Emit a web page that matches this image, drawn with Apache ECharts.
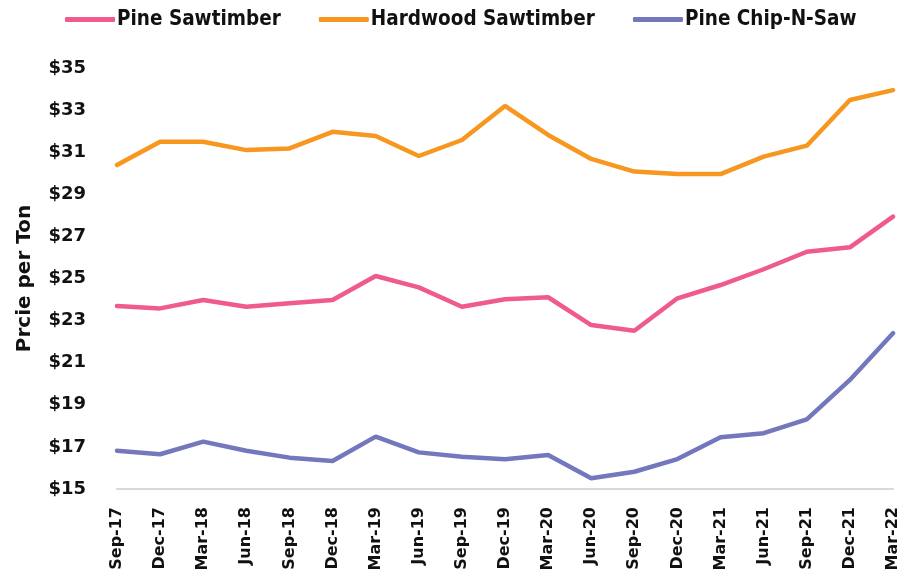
<!DOCTYPE html>
<html>
<head>
<meta charset="utf-8">
<script src="https://cdn.jsdelivr.net/npm/echarts@6/dist/echarts.min.js"></script>
<style>
  html, body { margin: 0; padding: 0; background: #fff; }
  #main { width: 917px; height: 579px; }
</style>
</head>
<body>
<div id="main"></div>
<script>
// quarterly stumpage prices, $ per ton
var quarters = ['Sep-17', 'Dec-17', 'Mar-18', 'Jun-18', 'Sep-18', 'Dec-18', 'Mar-19', 'Jun-19', 'Sep-19', 'Dec-19',
                'Mar-20', 'Jun-20', 'Sep-20', 'Dec-20', 'Mar-21', 'Jun-21', 'Sep-21', 'Dec-21', 'Mar-22'];
var pineSawtimber = [23.69, 23.58, 23.98, 23.66, 23.82, 23.98, 25.12, 24.58, 23.66, 24.01,
                     24.11, 22.79, 22.52, 24.06, 24.69, 25.44, 26.27, 26.48, 27.94];
var hardwoodSawtimber = [30.39, 31.50, 31.50, 31.10, 31.18, 31.97, 31.77, 30.82, 31.58, 33.20,
                         31.82, 30.68, 30.08, 29.96, 29.96, 30.79, 31.31, 33.48, 33.95];
var pineChipNSaw = [16.82, 16.65, 17.25, 16.82, 16.49, 16.33, 17.49, 16.74, 16.53, 16.41,
                    16.62, 15.51, 15.82, 16.42, 17.46, 17.65, 18.31, 20.18, 22.40];

var chart = echarts.init(document.getElementById('main'));
var wide = '"DejaVu Sans", sans-serif';
var narrow = '"DejaVu Sans Condensed", "DejaVu Sans", sans-serif';

function line(name, data, color) {
    return {
        name: name,
        type: 'line',
        data: data,
        symbol: 'none',
        lineStyle: { color: color, width: 4.5, cap: 'round' },
        itemStyle: { color: color }
    };
}

chart.setOption({
    backgroundColor: '#ffffff',
    animation: false,
    legend: {
        top: 4,
        left: 60,
        itemWidth: 50,
        itemHeight: 5,
        itemGap: 38,
        icon: 'roundRect',
        textStyle: { fontFamily: narrow, fontWeight: 'bold', fontSize: 20.5, color: '#111', padding: [0, 0, 0, -3] },
        data: ['Pine Sawtimber', 'Hardwood Sawtimber', 'Pine Chip-N-Saw']
    },
    grid: { left: 117, right: 24, top: 68, bottom: 90 },
    xAxis: {
        type: 'category',
        data: quarters,
        boundaryGap: false,
        axisLine: { lineStyle: { color: '#d9d9d9', width: 2 } },
        axisTick: { show: false },
        axisLabel: {
            rotate: 90,
            interval: 0,
            margin: 18,
            fontFamily: wide,
            fontWeight: 'bold',
            fontSize: 16,
            color: '#111'
        }
    },
    yAxis: {
        type: 'value',
        min: 15,
        max: 35,
        interval: 2,
        name: 'Prcie per Ton',
        nameLocation: 'middle',
        nameGap: 82,
        nameTextStyle: { fontFamily: wide, fontWeight: 'bold', fontSize: 20, color: '#111' },
        axisLine: { show: false },
        axisTick: { show: false },
        splitLine: { show: false },
        axisLabel: {
            margin: 31,
            fontFamily: wide,
            fontWeight: 'bold',
            fontSize: 18,
            color: '#111',
            formatter: '${value}'
        }
    },
    series: [
        line('Pine Sawtimber', pineSawtimber, '#EF5B8B'),
        line('Hardwood Sawtimber', hardwoodSawtimber, '#F7971F'),
        line('Pine Chip-N-Saw', pineChipNSaw, '#7477BC')
    ]
});
</script>
</body>
</html>
